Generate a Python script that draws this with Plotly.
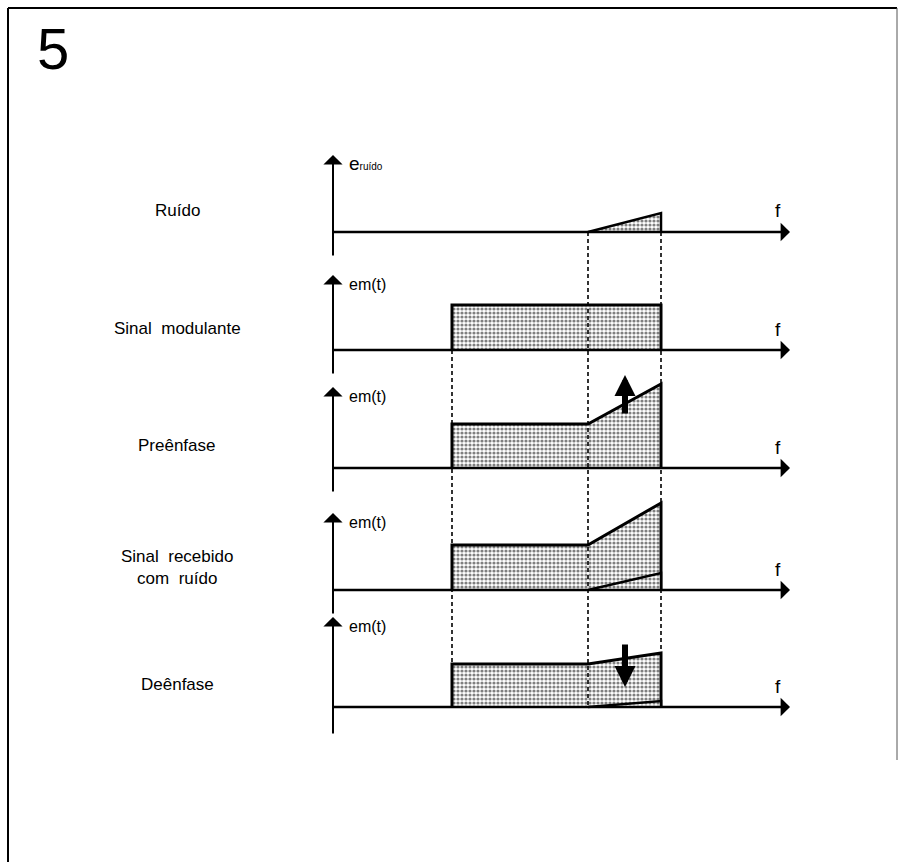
import plotly.graph_objects as go

# ---------------- data (frequency / amplitude in arbitrary units) ----------------
panel_names = ["Ruído", "Sinal  modulante", "Preênfase", "Sinal  recebido<br>com  ruído", "Deênfase"]
axis_labels = ["<span style='font-size:19px'>e</span><span style='font-size:10px'>ruído</span>",
               "em(t)", "em(t)", "em(t)", "em(t)"]
freq_marks = [119, 255, 328]          # f1 (signal start), f2 (pre-emphasis knee), f3 (signal end)
freq_axis_end = 457
signal_low = [None, 45, 44, 45, 43]   # amplitude between f1 and f2
signal_high = [None, 45, 84, 87, 54]  # amplitude at f3
noise_high = [19, None, None, 17, 6]  # noise amplitude at f3 (zero at f2)
emph_arrow = [None, None, "up", None, "down"]

# ---------------- layout helpers ----------------
W, H = 904, 862
# pixel rows of each panel: (arrow tip, baseline, axis bottom)
rows = [(155, 232, 257), (275, 350, 375), (387, 468, 493), (513, 590, 615), (617, 707, 735)]
label_rows = [210, 328, 445, 567, 684]
X0 = 333   # pixel of frequency origin
PAD = 40   # extra room above each axis tip so marks are not clipped


def py(p):
    return 1 - p / H


def px(p):
    return p / W


fig = go.Figure()
pattern = dict(shape=".", fgcolor="black", bgcolor="white", size=4, solidity=0.5)

for i, (tip, base, bot) in enumerate(rows):
    yname = "y" if i == 0 else f"y{i+1}"
    lname = "yaxis" if i == 0 else f"yaxis{i+1}"
    top = base - tip
    fig.update_layout({lname: dict(domain=[py(bot), py(tip - PAD)], range=[base - bot, top + PAD],
                                   visible=False, fixedrange=True)})
    f1, f2, f3 = freq_marks
    if signal_low[i] is not None:
        fig.add_trace(go.Scatter(x=[f1, f1, f2, f3, f3], y=[0, signal_low[i], signal_low[i], signal_high[i], 0],
                                 mode="lines", fill="toself", fillcolor="white", fillpattern=pattern,
                                 line=dict(color="black", width=3), yaxis=yname, xaxis="x",
                                 hoverinfo="skip", showlegend=False))
    if noise_high[i] is not None:
        fig.add_trace(go.Scatter(x=[f2, f3, f3], y=[0, noise_high[i], 0],
                                 mode="lines", fill="toself", fillcolor="white", fillpattern=pattern,
                                 line=dict(color="black", width=2.5), yaxis=yname, xaxis="x",
                                 hoverinfo="skip", showlegend=False))
    # horizontal frequency axis
    fig.add_annotation(x=freq_axis_end, y=0, ax=-1, ay=0, xref="x", yref=yname, axref="x", ayref=yname,
                       text="", showarrow=True, arrowhead=1, arrowsize=1.2, arrowwidth=2.6,
                       arrowcolor="black", standoff=0, startstandoff=0)
    # vertical amplitude axis
    fig.add_annotation(x=0, y=top, ax=0, ay=base - bot, xref="x", yref=yname, axref="x", ayref=yname,
                       text="", showarrow=True, arrowhead=1, arrowsize=1.6, arrowwidth=2,
                       arrowcolor="black", standoff=0, startstandoff=0)
    # labels
    fig.add_annotation(x=freq_axis_end - 12, y=21, xref="x", yref=yname, text="f",
                       showarrow=False, font=dict(size=19, color="black", family="Liberation Sans"))
    fig.add_annotation(x=14, y=top - 9, xref="x", yref=yname, text=axis_labels[i],
                       showarrow=False, xanchor="left", yanchor="middle",
                       font=dict(size=16, color="black", family="Liberation Sans"))
    fig.add_annotation(x=px(177), y=py(label_rows[i]), xref="paper", yref="paper",
                       text=panel_names[i], showarrow=False, xanchor="center", yanchor="middle",
                       font=dict(size=17, color="black", family="Liberation Sans"))
    # emphasis arrows
    if emph_arrow[i] == "up":
        fig.add_annotation(x=292, y=93, ax=292, ay=53, xref="x", yref=yname, axref="x", ayref=yname,
                           text="", showarrow=True, arrowhead=2, arrowsize=0.7, arrowwidth=6,
                           arrowcolor="black", standoff=0)
    elif emph_arrow[i] == "down":
        fig.add_annotation(x=292, y=20, ax=292, ay=64, xref="x", yref=yname, axref="x", ayref=yname,
                           text="", showarrow=True, arrowhead=2, arrowsize=0.7, arrowwidth=6,
                           arrowcolor="black", standoff=0)

# dashed guide lines
dash_style = dict(color="black", width=1.6, dash="4px,3px")
fig.add_shape(type="line", xref="x", yref="paper", x0=freq_marks[0], x1=freq_marks[0],
              y0=py(rows[1][1]), y1=py(rows[4][1]), line=dash_style)
for f in freq_marks[1:]:
    fig.add_shape(type="line", xref="x", yref="paper", x0=f, x1=f,
                  y0=py(rows[0][1]), y1=py(rows[4][1]), line=dash_style)

# frame and figure number
frame = dict(color="black", width=2)
fig.add_shape(type="line", xref="paper", yref="paper", x0=px(8), x1=px(8), y0=0, y1=py(8), line=frame)
fig.add_shape(type="line", xref="paper", yref="paper", x0=px(8), x1=px(897), y0=py(8), y1=py(8), line=frame)
fig.add_shape(type="line", xref="paper", yref="paper", x0=px(897), x1=px(897), y0=py(760), y1=py(8),
              line=dict(color="#555555", width=1))
fig.add_annotation(x=px(35), y=py(14), xref="paper", yref="paper", text="5", showarrow=False,
                   xanchor="left", yanchor="top",
                   font=dict(size=58, color="black", family="Liberation Sans"))

fig.update_layout(
    width=W, height=H, margin=dict(l=0, r=0, t=0, b=0),
    paper_bgcolor="white", plot_bgcolor="white",
    xaxis=dict(domain=[0, 1], range=[-X0, W - X0], visible=False, fixedrange=True),
    showlegend=False,
)

fig.write_html("out.html", config={"displayModeBar": False},
               post_script="document.body.style.margin='0';")
